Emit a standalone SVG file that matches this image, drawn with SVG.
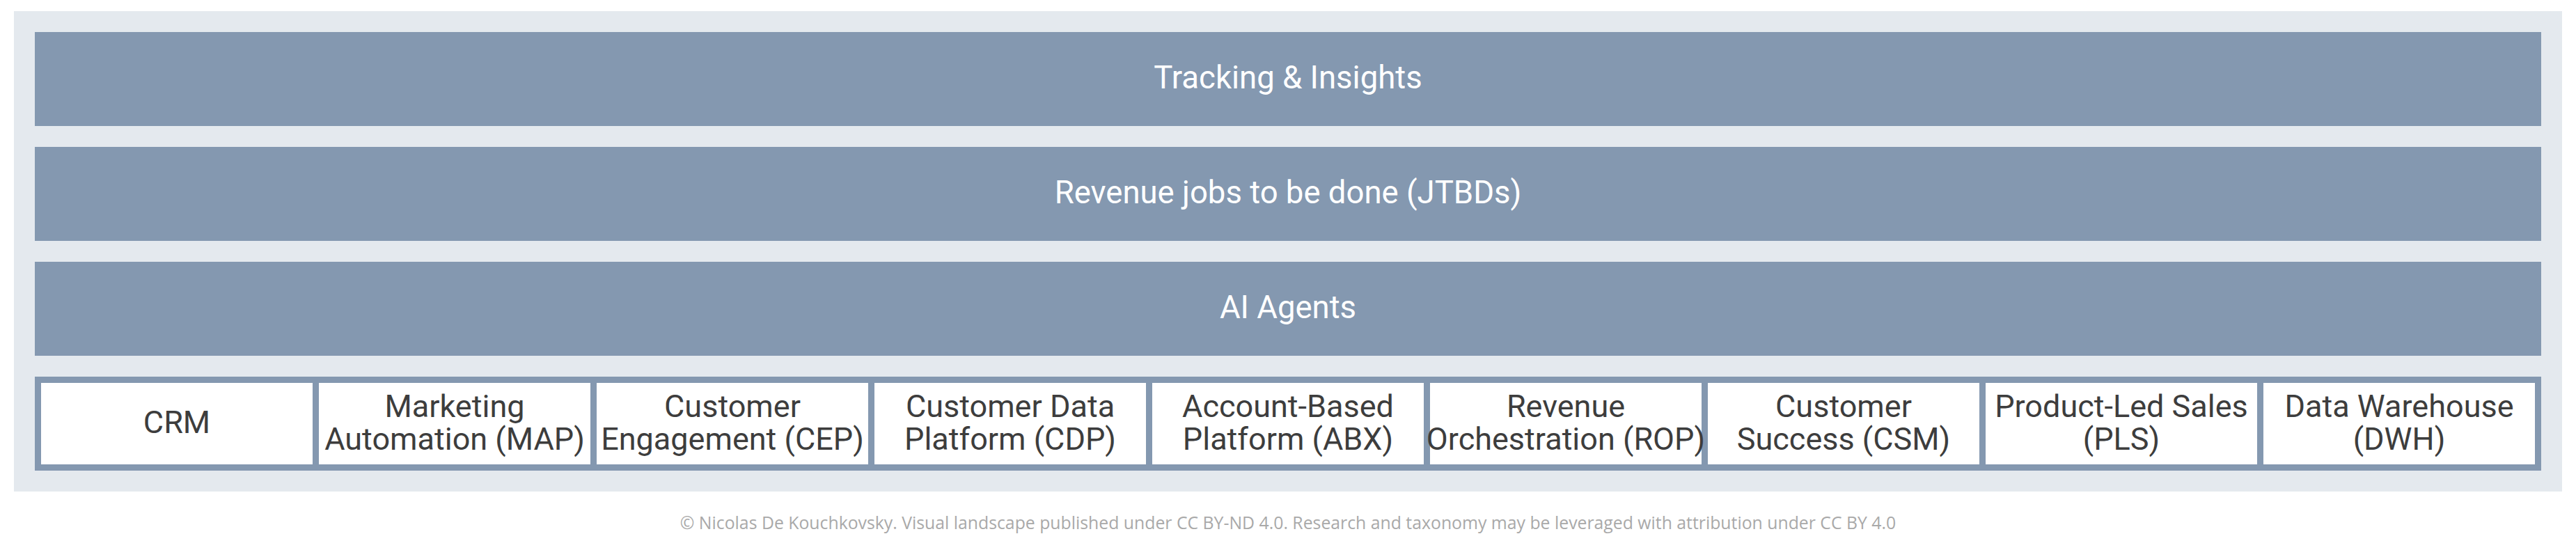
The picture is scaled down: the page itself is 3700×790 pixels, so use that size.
<svg xmlns="http://www.w3.org/2000/svg" width="3700" height="790" viewBox="0 0 3700 790">
  <style>
    .panel { fill: #e4e9ee; }
    .band { fill: #8498b0; }
    .band-text { font-family: Roboto, "Liberation Sans", sans-serif; font-size: 45.5px; fill: #ffffff; text-anchor: middle; }
    .row { fill: #8498b0; }
    .cell { fill: #ffffff; }
    .cell-text { font-family: Roboto, "Liberation Sans", sans-serif; font-size: 45px; fill: #3d3d3d; text-anchor: middle; }
    .footer { font-family: "Open Sans", "Noto Sans", sans-serif; font-size: 24.8px; fill: #a9a9a9; text-anchor: middle; }
  </style>
  <rect x="0" y="0" width="3700" height="790" fill="#ffffff"/>
  <rect class="panel" x="20" y="16" width="3660" height="690"/>

  <g id="tracking-insights">
    <rect class="band" x="50" y="46" width="3600" height="135"/>
    <text class="band-text" x="1850" y="126.5">Tracking &amp; Insights</text>
  </g>
  <g id="revenue-jtbds">
    <rect class="band" x="50" y="211" width="3600" height="135"/>
    <text class="band-text" x="1850" y="291.5">Revenue jobs to be done (JTBDs)</text>
  </g>
  <g id="ai-agents">
    <rect class="band" x="50" y="376" width="3600" height="135"/>
    <text class="band-text" x="1850" y="456.5">AI Agents</text>
  </g>

  <g id="systems-row">
    <rect class="row" x="50" y="541" width="3600" height="135"/>
  </g>
  <g id="crm">
    <rect class="cell" x="59" y="550" width="390" height="117"/>
    <text class="cell-text" x="254" y="622">CRM</text>
  </g>
  <g id="map">
    <rect class="cell" x="458" y="550" width="390" height="117"/>
    <text class="cell-text" x="653" y="599">Marketing</text>
    <text class="cell-text" x="653" y="645.5">Automation (MAP)</text>
  </g>
  <g id="cep">
    <rect class="cell" x="857" y="550" width="390" height="117"/>
    <text class="cell-text" x="1052" y="599">Customer</text>
    <text class="cell-text" x="1052" y="645.5">Engagement (CEP)</text>
  </g>
  <g id="cdp">
    <rect class="cell" x="1256" y="550" width="390" height="117"/>
    <text class="cell-text" x="1451" y="599">Customer Data</text>
    <text class="cell-text" x="1451" y="645.5">Platform (CDP)</text>
  </g>
  <g id="abx">
    <rect class="cell" x="1655" y="550" width="390" height="117"/>
    <text class="cell-text" x="1850" y="599">Account-Based</text>
    <text class="cell-text" x="1850" y="645.5">Platform (ABX)</text>
  </g>
  <g id="rop">
    <rect class="cell" x="2054" y="550" width="390" height="117"/>
    <text class="cell-text" x="2249" y="599">Revenue</text>
    <text class="cell-text" x="2249" y="645.5">Orchestration (ROP)</text>
  </g>
  <g id="csm">
    <rect class="cell" x="2453" y="550" width="390" height="117"/>
    <text class="cell-text" x="2648" y="599">Customer</text>
    <text class="cell-text" x="2648" y="645.5">Success (CSM)</text>
  </g>
  <g id="pls">
    <rect class="cell" x="2852" y="550" width="390" height="117"/>
    <text class="cell-text" x="3047" y="599">Product-Led Sales</text>
    <text class="cell-text" x="3047" y="645.5">(PLS)</text>
  </g>
  <g id="dwh">
    <rect class="cell" x="3251" y="550" width="390" height="117"/>
    <text class="cell-text" x="3446" y="599">Data Warehouse</text>
    <text class="cell-text" x="3446" y="645.5">(DWH)</text>
  </g>

  <g id="connectors"/>

  <text class="footer" x="1850" y="760">© Nicolas De Kouchkovsky. Visual landscape published under CC BY-ND 4.0. Research and taxonomy may be leveraged with attribution under CC BY 4.0</text>
</svg>
